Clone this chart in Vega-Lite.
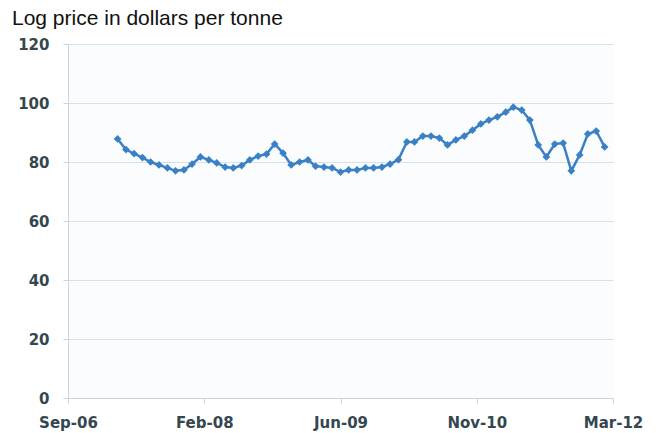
{
  "$schema": "https://vega.github.io/schema/vega-lite/v6.json",
  "width": 545,
  "height": 354,
  "autosize": "none",
  "padding": {"left": 68, "top": 44, "right": 49, "bottom": 35},
  "background": "white",
  "title": {
    "text": "Log price in dollars per tonne",
    "anchor": "start",
    "frame": "group",
    "dx": -56,
    "offset": -9,
    "baseline": "alphabetic",
    "font": "Liberation Sans",
    "fontSize": 21,
    "fontWeight": "normal",
    "color": "#111111"
  },
  "config": {
    "view": {"stroke": null, "fill": "#fbfcfe"},
    "axis": {
      "labelFont": "DejaVu Sans",
      "labelFontSize": 15,
      "labelFontWeight": "bold",
      "labelColor": "#34474f",
      "domainColor": "#c9d6df",
      "tickColor": "#c9d6df",
      "gridColor": "#d6e2ea",
      "title": null
    }
  },
  "data": {
    "values": [
      {"date": "2007-03-22", "price": 87.8},
      {"date": "2007-04-22", "price": 84.2},
      {"date": "2007-05-22", "price": 82.8},
      {"date": "2007-06-22", "price": 81.5},
      {"date": "2007-07-22", "price": 80.0},
      {"date": "2007-08-22", "price": 79.0},
      {"date": "2007-09-22", "price": 78.0},
      {"date": "2007-10-22", "price": 77.0},
      {"date": "2007-11-22", "price": 77.3},
      {"date": "2007-12-22", "price": 79.3},
      {"date": "2008-01-22", "price": 81.7},
      {"date": "2008-02-22", "price": 80.7},
      {"date": "2008-03-22", "price": 79.7},
      {"date": "2008-04-22", "price": 78.3},
      {"date": "2008-05-22", "price": 78.0},
      {"date": "2008-06-22", "price": 78.8},
      {"date": "2008-07-22", "price": 80.7},
      {"date": "2008-08-22", "price": 82.0},
      {"date": "2008-09-22", "price": 82.7},
      {"date": "2008-10-22", "price": 86.1},
      {"date": "2008-11-22", "price": 83.0},
      {"date": "2008-12-22", "price": 79.0},
      {"date": "2009-01-22", "price": 80.0},
      {"date": "2009-02-22", "price": 80.7},
      {"date": "2009-03-22", "price": 78.6},
      {"date": "2009-04-22", "price": 78.3},
      {"date": "2009-05-22", "price": 78.0},
      {"date": "2009-06-22", "price": 76.6},
      {"date": "2009-07-22", "price": 77.3},
      {"date": "2009-08-22", "price": 77.3},
      {"date": "2009-09-22", "price": 78.0},
      {"date": "2009-10-22", "price": 78.0},
      {"date": "2009-11-22", "price": 78.3},
      {"date": "2009-12-22", "price": 79.3},
      {"date": "2010-01-22", "price": 80.8},
      {"date": "2010-02-22", "price": 86.8},
      {"date": "2010-03-22", "price": 86.8},
      {"date": "2010-04-22", "price": 88.8},
      {"date": "2010-05-22", "price": 88.8},
      {"date": "2010-06-22", "price": 88.1},
      {"date": "2010-07-22", "price": 85.8},
      {"date": "2010-08-22", "price": 87.5},
      {"date": "2010-09-22", "price": 88.8},
      {"date": "2010-10-22", "price": 90.8},
      {"date": "2010-11-22", "price": 92.9},
      {"date": "2010-12-22", "price": 94.2},
      {"date": "2011-01-22", "price": 95.3},
      {"date": "2011-02-22", "price": 96.9},
      {"date": "2011-03-22", "price": 98.6},
      {"date": "2011-04-22", "price": 97.6},
      {"date": "2011-05-22", "price": 94.2},
      {"date": "2011-06-22", "price": 85.8},
      {"date": "2011-07-22", "price": 81.7},
      {"date": "2011-08-22", "price": 86.1},
      {"date": "2011-09-22", "price": 86.4},
      {"date": "2011-10-22", "price": 77.0},
      {"date": "2011-11-22", "price": 82.4},
      {"date": "2011-12-22", "price": 89.5},
      {"date": "2012-01-22", "price": 90.5},
      {"date": "2012-02-22", "price": 85.1}
    ]
  },
  "mark": {
    "type": "line",
    "color": "#3a80c6",
    "strokeWidth": 2.5,
    "point": {"shape": "diamond", "size": 60, "filled": true, "color": "#3a80c6"}
  },
  "encoding": {
    "x": {
      "field": "date",
      "type": "temporal",
      "scale": {"domain": ["2006-09-20", "2012-03-24"]},
      "axis": {
        "values": ["2006-09-20", "2008-02-05", "2009-06-22", "2010-11-07", "2012-03-24"],
        "format": "%b-%y",
        "grid": false,
        "tickSize": 5,
        "labelPadding": 12,
        "labelFlush": false,
        "labelOverlap": false
      }
    },
    "y": {
      "field": "price",
      "type": "quantitative",
      "scale": {"domain": [0, 120]},
      "axis": {
        "values": [0, 20, 40, 60, 80, 100, 120],
        "tickSize": 5,
        "labelPadding": 14,
        "domain": true
      }
    }
  }
}
